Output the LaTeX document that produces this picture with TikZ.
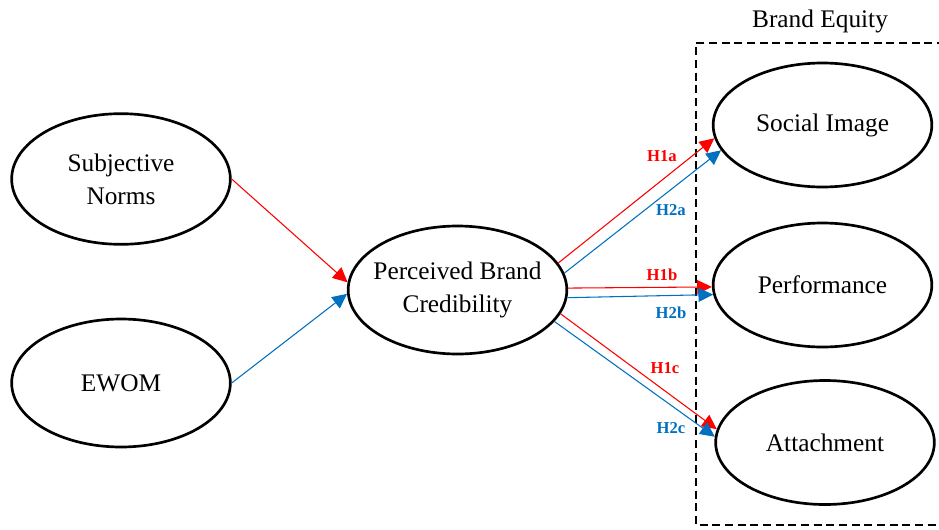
\documentclass[tikz,border=0pt]{standalone}
\usepackage{fontspec}
\setmainfont{Liberation Serif}
\usetikzlibrary{shapes.geometric,arrows.meta}
\definecolor{hred}{HTML}{FF0000}
\definecolor{hblue}{HTML}{0070C0}

\begin{document}
\begin{tikzpicture}[x=0.75pt, y=-0.75pt,
  construct/.style={ellipse, draw, line width=2pt, minimum width=164pt,
    minimum height=96pt, inner sep=-6pt, align=center,
    font=\fontsize{19}{24.5}\selectfont},
  redpath/.style={draw=hred, line width=0.8pt, -{Triangle[length=11pt,width=10.5pt]}},
  bluepath/.style={draw=hblue, line width=0.8pt, -{Triangle[length=11pt,width=10.5pt]}},
  hyp/.style={font=\fontsize{12.5}{14}\selectfont\bfseries, inner sep=0pt}]
  \useasboundingbox (0,0) rectangle (939,529);

  % Brand equity group
  \draw[line width=1.5pt, dash pattern=on 6pt off 3.5pt]
    (945,43) -- (696,43) -- (696,525) -- (945,525);
  \node[font=\fontsize{19}{24.5}\selectfont] (eqlabel) at (820,21) {Brand Equity};

  % Constructs
  \node[construct, minimum height=98pt] (sn) at (121,179) {Subjective\\Norms};
  \node[construct, minimum height=96pt] (ewom) at (121,383) {EWOM};
  \node[construct] (pbc) at (457.5,290) {Perceived Brand\\Credibility};
  \node[construct, minimum height=93pt] (si) at (822.5,125) {Social Image};
  \node[construct, minimum height=93pt] (perf) at (822.5,285) {Performance};
  \node[construct, minimum height=93pt] (att) at (825,442.5) {Attachment};

  % Antecedents
  \draw[redpath] (sn.east) -- (pbc.176);
  \draw[bluepath] (ewom.east) -- (pbc.182);

  % H1 paths
  \draw[redpath] (pbc.15) -- (si.187);
  \draw[redpath] (pbc.1.5) -- (perf.181);
  \draw[redpath] (pbc.347.5) -- (att.173);

  % H2 paths
  \draw[bluepath] (pbc.9.5) -- (si.194.5);
  \draw[bluepath] (pbc.356) -- (perf.185.5);
  \draw[bluepath] (pbc.342) -- (att.177);

  % Hypothesis labels
  \node[hyp, text=hred] (h1a) at (662,156) {H1a};
  \node[hyp, text=hblue] (h2a) at (671,210) {H2a};
  \node[hyp, text=hred] (h1b) at (662,274.5) {H1b};
  \node[hyp, text=hblue] (h2b) at (671,313) {H2b};
  \node[hyp, text=hred] (h1c) at (665,368) {H1c};
  \node[hyp, text=hblue] (h2c) at (671,428) {H2c};
\end{tikzpicture}
\end{document}
